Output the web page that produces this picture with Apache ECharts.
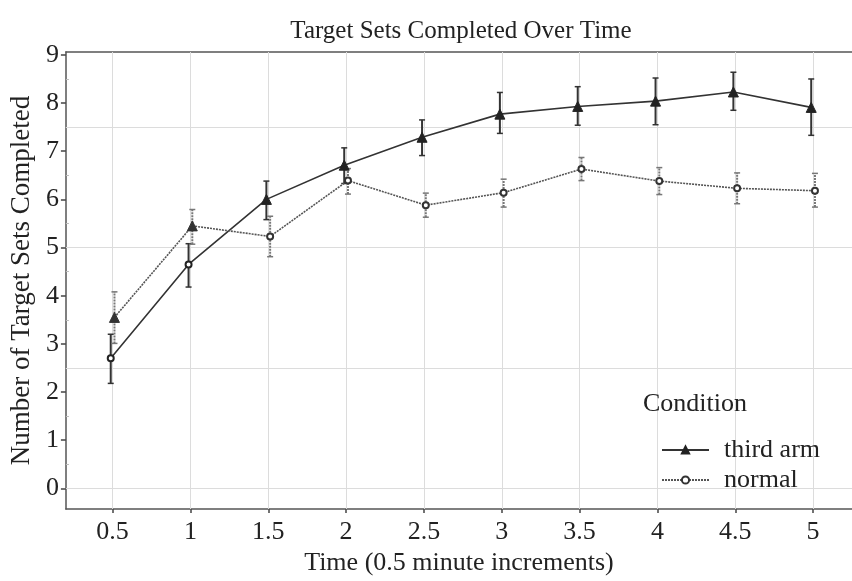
<!DOCTYPE html>
<html>
<head>
<meta charset="utf-8">
<script src="https://cdn.jsdelivr.net/npm/echarts@6/dist/echarts.min.js"></script>
<style>
  html, body { margin: 0; background: #fff; }
  #chart { width: 852px; height: 581px; }
</style>
</head>
<body>
<div id="chart"></div>
<script>
// time points (0.5 minute steps)
var times = [0.5, 1, 1.5, 2, 2.5, 3, 3.5, 4, 4.5, 5];

// solid line series
var thirdArm     = [2.70, 4.65, 6.00, 6.71, 7.29, 7.77, 7.93, 8.04, 8.23, 7.91];
var thirdArmLow  = [2.18, 4.18, 5.58, 6.33, 6.91, 7.37, 7.54, 7.55, 7.85, 7.33];
var thirdArmHigh = [3.20, 5.08, 6.38, 7.07, 7.65, 8.22, 8.34, 8.52, 8.64, 8.50];

// dotted line series
var normal     = [3.55, 5.45, 5.23, 6.39, 5.88, 6.14, 6.63, 6.38, 6.23, 6.18];
var normalLow  = [3.01, 5.07, 4.81, 6.11, 5.63, 5.84, 6.39, 6.10, 5.91, 5.84];
var normalHigh = [4.08, 5.79, 5.65, 6.64, 6.13, 6.42, 6.87, 6.66, 6.55, 6.54];

// the source figure swaps markers at the first two points
var thirdArmSymbols = ['emptyCircle', 'emptyCircle', 'triangle', 'triangle', 'triangle',
                       'triangle', 'triangle', 'triangle', 'triangle', 'triangle'];
var normalSymbols = ['triangle', 'triangle', 'emptyCircle', 'emptyCircle', 'emptyCircle',
                     'emptyCircle', 'emptyCircle', 'emptyCircle', 'emptyCircle', 'emptyCircle'];

var yTicks = [0, 1, 2, 3, 4, 5, 6, 7, 8, 9];
var yMinorTicks = [0.5, 1.5, 2.5, 3.5, 4.5, 5.5, 6.5, 7.5, 8.5];
var yGridLines = [0, 2.5, 5, 7.5];

var FONT = 'Liberation Serif';
var dodge = 0.012;

var chart = echarts.init(document.getElementById('chart'));

function symbolSizeOf(s) {
    return s === 'triangle' ? 10 : 6;
}

function points(vals, syms, shift) {
    return vals.map(function (v, i) {
        return {
            value: [times[i] + shift, v],
            symbol: syms[i],
            symbolSize: symbolSizeOf(syms[i])
        };
    });
}

function bars(low, high, shift) {
    return times.map(function (t, i) {
        return [t + shift, low[i], high[i]];
    });
}

// error bars drawn through the axes
function errorBarSeries(data, color, width, dash) {
    return {
        type: 'custom',
        silent: true,
        z: 3,
        data: data,
        encode: { x: 0, y: [1, 2] },
        renderItem: function (params, api) {
            var lo = api.coord([api.value(0), api.value(1)]);
            var hi = api.coord([api.value(0), api.value(2)]);
            var cap = 3;
            var st = { stroke: color, lineWidth: width, lineDash: dash };
            return {
                type: 'group',
                children: [
                    { type: 'line', shape: { x1: lo[0], y1: lo[1], x2: hi[0], y2: hi[1] }, style: st },
                    { type: 'line', shape: { x1: lo[0] - cap, y1: lo[1], x2: lo[0] + cap, y2: lo[1] },
                      style: { stroke: color, lineWidth: 1.5 } },
                    { type: 'line', shape: { x1: hi[0] - cap, y1: hi[1], x2: hi[0] + cap, y2: hi[1] },
                      style: { stroke: color, lineWidth: 1.5 } }
                ]
            };
        }
    };
}

var gridMarks = times.map(function (t) { return { xAxis: t }; })
    .concat(yGridLines.map(function (v) { return { yAxis: v }; }));

var option = {
    backgroundColor: '#fff',
    animation: false,
    title: [{
        text: 'Target Sets Completed Over Time',
        left: 456,
        textAlign: 'center',
        top: 14,
        textStyle: { fontFamily: FONT, fontSize: 25, fontWeight: 'normal', color: '#222' }
    }, {
        text: 'Condition',
        left: 638,
        top: 386,
        textStyle: { fontFamily: FONT, fontSize: 26, fontWeight: 'normal', color: '#222' }
    }],
    legend: {
        data: ['third arm', 'normal'],
        orient: 'vertical',
        left: 656,
        top: 432,
        itemWidth: 47,
        itemHeight: 9,
        itemGap: 4,
        selectedMode: false,
        textStyle: { fontFamily: FONT, fontSize: 26, color: '#222', padding: [0, 0, 0, 10] }
    },
    grid: { left: 60, right: 0, top: 52, bottom: 66 },
    xAxis: [{
        type: 'value',
        min: 0.2,
        max: 5.25,
        name: 'Time (0.5 minute increments)',
        nameLocation: 'middle',
        nameGap: 36,
        nameTextStyle: { fontFamily: FONT, fontSize: 26, color: '#222' },
        axisLine: { show: true, onZero: false, lineStyle: { color: '#555', width: 1.5 } },
        axisTick: { show: true, length: 4, customValues: times, lineStyle: { color: '#444', width: 1.5 } },
        axisLabel: { customValues: times, fontFamily: FONT, fontSize: 26, color: '#222', margin: 10 },
        splitLine: { show: false }
    }, {
        type: 'value',
        position: 'top',
        min: 0.2,
        max: 5.25,
        axisLine: { show: true, onZero: false, lineStyle: { color: '#555', width: 1.5 } },
        axisTick: { show: false },
        axisLabel: { show: false },
        splitLine: { show: false }
    }],
    yAxis: [{
        type: 'value',
        min: -0.43,
        max: 9.06,
        name: 'Number of Target Sets Completed',
        nameLocation: 'middle',
        nameGap: 24,
        nameTextStyle: { fontFamily: FONT, fontSize: 27, color: '#222' },
        axisLine: { show: true, onZero: false, lineStyle: { color: '#555', width: 1.5 } },
        axisTick: { show: true, length: 5, customValues: yTicks, lineStyle: { color: '#444', width: 1.5 } },
        axisLabel: { customValues: yTicks, fontFamily: FONT, fontSize: 26, color: '#222', margin: 7 },
        splitLine: { show: false }
    }, {
        type: 'value',
        position: 'left',
        min: -0.43,
        max: 9.06,
        axisLine: { show: false, onZero: false },
        axisTick: { show: true, inside: true, length: 3, customValues: yMinorTicks,
                    lineStyle: { color: '#bbb' } },
        axisLabel: { show: false },
        splitLine: { show: false }
    }],
    series: [
        {
            type: 'line',
            name: 'grid',
            data: [],
            silent: true,
            markLine: {
                z: 1,
                silent: true,
                symbol: ['none', 'none'],
                label: { show: false },
                lineStyle: { color: '#dcdcdc', width: 1, type: 'solid' },
                data: gridMarks
            }
        },
        errorBarSeries(bars(thirdArmLow, thirdArmHigh, -dodge), '#333', 2, null),
        errorBarSeries(bars(normalLow, normalHigh, dodge), '#777', 2, [2, 1]),
        {
            type: 'line',
            name: 'third arm',
            z: 4,
            symbol: 'triangle',
            symbolSize: 10,
            data: points(thirdArm, thirdArmSymbols, -dodge),
            lineStyle: { color: '#333', width: 1.6, type: 'solid' },
            itemStyle: { color: '#222', borderColor: '#222', borderWidth: 1 }
        },
        {
            type: 'line',
            name: 'normal',
            z: 4,
            symbol: 'emptyCircle',
            symbolSize: 6,
            data: points(normal, normalSymbols, dodge),
            lineStyle: { color: '#555', width: 1.6, type: [2, 1] },
            itemStyle: { color: '#333', borderColor: '#333', borderWidth: 1 }
        }
    ]
};

chart.setOption(option);
</script>
</body>
</html>
